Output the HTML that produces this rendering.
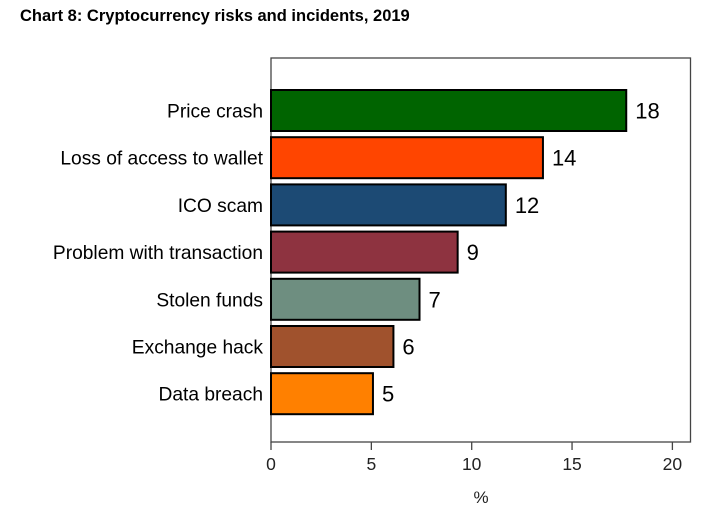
<!DOCTYPE html>
<html><head><meta charset="utf-8"><style>
body{margin:0;background:#fff;width:715px;height:517px;overflow:hidden}
svg{font-family:"Liberation Sans",Arial,sans-serif}
</style></head><body>
<svg width="715" height="517">
<text x="20" y="21" font-size="16.5" font-weight="bold" fill="#000">Chart 8: Cryptocurrency risks and incidents, 2019</text>
<rect x="271" y="58" width="419.5" height="384" fill="#fff" stroke="#444" stroke-width="1.3"/>
<g id="bars"></g>
<g id="axis"></g>
<text x="481" y="503" font-size="17" text-anchor="middle" fill="#222">%</text>
</svg>
<script>
const categories=["Price crash","Loss of access to wallet","ICO scam","Problem with transaction","Stolen funds","Exchange hack","Data breach"];
const values=[17.7,13.55,11.7,9.3,7.4,6.1,5.08];
const printed=["18","14","12","9","7","6","5"];
const colors=["#006400","#ff4500","#1c4a74","#8e3340","#6e8e80","#a0522d","#ff8000"];
const ticks=[0,5,10,15,20];
const NS="http://www.w3.org/2000/svg";
const x=v=>271+v*20.07;
const y=i=>90+i*47.2;
const bh=41;
function mk(t,a,p){const e=document.createElementNS(NS,t);for(const k in a)e.setAttribute(k,a[k]);p.appendChild(e);return e;}
const gb=document.getElementById('bars'),ga=document.getElementById('axis');
categories.forEach((c,i)=>{
 const r=mk('rect',{x:x(0),y:y(i),width:x(values[i])-x(0),height:bh,fill:colors[i],stroke:'#000','stroke-width':2},gb);
 
 
 const l=mk('text',{x:263,y:y(i)+bh/2+7,'font-size':19.2,'text-anchor':'end',fill:'#000'},gb);l.textContent=c;
 
 
 const v=mk('text',{x:x(values[i])+9,y:y(i)+bh/2+8,'font-size':22,fill:'#000'},gb);v.textContent=printed[i];
 
 
});
ticks.forEach(t=>{
 const ln=mk('line',{x1:x(t),x2:x(t),y1:442,y2:450,stroke:'#444','stroke-width':1.3},ga);
 
 
 const tx=mk('text',{x:x(t),y:470,'font-size':17.5,'text-anchor':'middle',fill:'#222'},ga);tx.textContent=t;
 
 
});
</script>
</body></html>
